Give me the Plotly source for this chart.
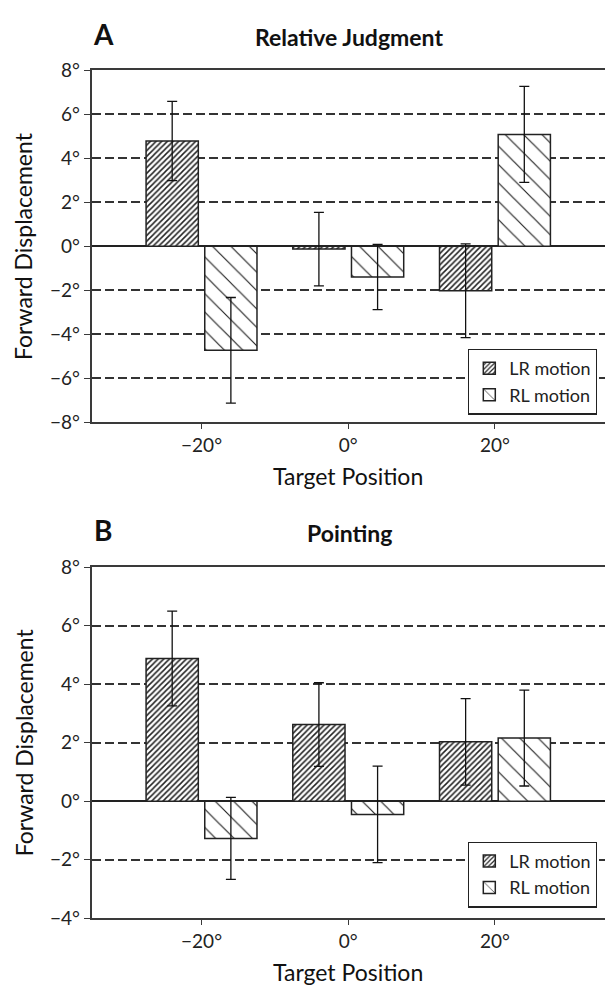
import plotly.graph_objects as go

# ---- data ----
positions = [-20, 0, 20]
pos_labels = ["\u221220\u00b0", "0\u00b0", "20\u00b0"]

rj_lr = [4.78, -0.13, -2.02]
rj_lr_err = [1.80, 1.67, 2.13]
rj_rl = [-4.73, -1.40, 5.08]
rj_rl_err = [2.40, 1.48, 2.18]

pt_lr = [4.88, 2.62, 2.03]
pt_lr_err = [1.62, 1.43, 1.48]
pt_rl = [-1.27, -0.45, 2.16]
pt_rl_err = [1.40, 1.65, 1.64]

yticks_a = [-8, -6, -4, -2, 0, 2, 4, 6, 8]
yticks_b = [-4, -2, 0, 2, 4, 6, 8]

def deg(v):
    return ("\u2212" if v < 0 else "") + f"{abs(v)}\u00b0"

FONT = "Lato"
INK = "#222222"
AX = "#3a3a3a"

lr_pattern = dict(shape="/", size=4, solidity=0.38, fgcolor=INK, bgcolor="white", fillmode="replace")
rl_pattern = dict(shape="\\", size=13, solidity=0.09, fgcolor=INK, bgcolor="white", fillmode="replace")

def bar(name, x, y, err, pat, xa, ya, legend):
    return go.Bar(
        name=name, x=x, y=y, xaxis=xa, yaxis=ya, legend=legend,
        marker=dict(color="white", pattern=pat, line=dict(color=INK, width=1.5)),
        error_y=dict(type="data", array=err, visible=True, color="#111111", thickness=1.3, width=5),
    )

fig = go.Figure()
fig.add_trace(bar("LR motion", positions, rj_lr, rj_lr_err, lr_pattern, "x", "y", "legend"))
fig.add_trace(bar("RL motion", positions, rj_rl, rj_rl_err, rl_pattern, "x", "y", "legend"))
fig.add_trace(bar("LR motion", positions, pt_lr, pt_lr_err, lr_pattern, "x2", "y2", "legend2"))
fig.add_trace(bar("RL motion", positions, pt_rl, pt_rl_err, rl_pattern, "x2", "y2", "legend2"))

W, H = 605, 995
xdom = [91.5 / W, 1.0]
ydom_a = [1 - 420 / H, 1 - 59.5 / H]
ydom_b = [1 - 927.7 / H, 1 - 568.3 / H]

xcommon = dict(
    range=[-35, 35], tickvals=positions, ticktext=pos_labels, ticks="outside", ticklen=5,
    tickwidth=1.3, tickcolor=AX, showline=True, linecolor=AX, linewidth=1.5, mirror=True,
    showgrid=False, zeroline=False, tickfont=dict(family=FONT, size=19, color=INK),
    domain=xdom, fixedrange=True,
)
ycommon = dict(
    ticks="outside", ticklen=6, tickwidth=1.3, tickcolor=AX, showline=True, linecolor=AX,
    linewidth=1.5, showgrid=True, gridcolor="#333333", gridwidth=1.6, griddash="9px,4px",
    zeroline=True, zerolinecolor=INK, zerolinewidth=1.7,
    tickfont=dict(family=FONT, size=19, color=INK), fixedrange=True,
)

legend_common = dict(
    x=597 / W, xanchor="right", yanchor="bottom", bgcolor="white", bordercolor=INK,
    borderwidth=1.3, font=dict(family=FONT, size=18, color=INK), tracegroupgap=0, itemwidth=30,
)

fig.update_layout(
    width=W, height=H, margin=dict(l=0, r=0, t=0, b=0),
    paper_bgcolor="white", plot_bgcolor="white",
    barmode="group", bargap=0.2, bargroupgap=0.11,
    font=dict(family=FONT, color=INK),
    xaxis=dict(anchor="y", **xcommon),
    yaxis=dict(anchor="x", domain=ydom_a, range=[-8, 8], tickvals=yticks_a,
               ticktext=[deg(v) for v in yticks_a], **ycommon),
    xaxis2=dict(anchor="y2", **xcommon),
    yaxis2=dict(anchor="x2", domain=ydom_b, range=[-4, 8], tickvals=yticks_b,
                ticktext=[deg(v) for v in yticks_b], **ycommon),
    legend=dict(y=1 - 412.3 / H, **legend_common),
    legend2=dict(y=1 - 916.7 / H, **legend_common),
)

def ann(text, x, y, size, bold=False, xanchor="center", angle=0):
    fig.add_annotation(
        text=f"<b>{text}</b>" if bold else text, x=x / W, y=1 - y / H, xref="paper", yref="paper",
        xanchor=xanchor, yanchor="middle", showarrow=False, textangle=angle,
        font=dict(family=FONT, size=size, color="#111111"),
    )

ann("A", 91.0, 22.5, 28, bold=True, xanchor="left")
ann("Relative Judgment", 349, 26, 23, bold=True)
ann("B", 91.5, 530.5, 28, bold=True, xanchor="left")
ann("Pointing", 349, 533, 23, bold=True)
ann("Target Position", 348, 475, 23)
ann("Target Position", 348, 983, 23)
ann("Forward Displacement", 23.5, 240, 23, angle=-90)
ann("Forward Displacement", 23.5, 748, 23, angle=-90)

fig.write_html("out.html")
